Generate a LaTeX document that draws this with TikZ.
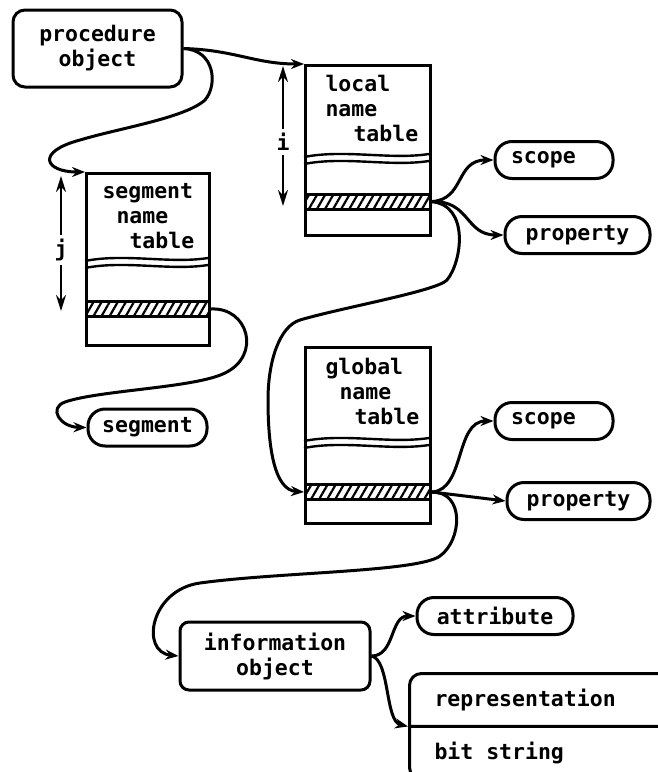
\documentclass[tikz,border=0pt]{standalone}
\usepackage{fontspec}
\setmonofont{DejaVu Sans Mono}
\usetikzlibrary{arrows.meta,patterns.meta,shapes.multipart}
\begin{document}
\begin{tikzpicture}[x=1pt, y=-1pt, >={Stealth[length=13pt,width=10pt]},
  line width=3pt,
  every node/.style={font=\ttfamily\bfseries\fontsize{21.5}{25}\selectfont, inner sep=0pt},
  obj/.style={draw, rounded corners=12pt, align=center},
  pill/.style={draw, rounded corners=17pt, minimum height=37pt},
  nametab/.style={draw, anchor=north west, minimum width=125pt},
  hatchbar/.style={draw, anchor=north west, minimum width=125pt, minimum height=15pt,
    pattern={Lines[angle=60, distance=7pt, line width=2.2pt]}},
  tabtext/.style={anchor=north west, align=left},
  wave/.style={line width=2.4pt},
  idx/.style={line width=2.2pt, >={Stealth[length=16pt,width=10pt]}}]
\useasboundingbox (0,0) rectangle (657,772);

% procedure object
\node[obj, minimum width=169pt, minimum height=77pt] (proc) at (97.5,48.5) {procedure\\object};

% local name table
\node[nametab, minimum height=170pt] (loc) at (304,64) {};
\node[tabtext] (locT) at (324,74) {local\\name\\\hspace*{28pt}table};
\draw[wave] (304,157) .. controls (345,149) and (390,160) .. (429,154);
\draw[wave] (304,164) .. controls (345,156) and (390,167) .. (429,161);
\node[hatchbar] (locbar) at (304,193) {};
\coordinate (iTop) at (283,66);
\coordinate (iBot) at (283,206);
\node[inner ysep=3pt] (iLbl) at (283,142) {i};
\draw[idx,->] (iLbl) -- (iTop);
\draw[idx,->] (iLbl) -- (iBot);

% segment name table
\node[nametab, minimum width=123pt, minimum height=172pt] (seg) at (85,172) {};
\node[tabtext] (segT) at (101,181.5) {segment\\\hspace*{14pt}name\\\hspace*{27pt}table};
\draw[wave] (85,261) .. controls (125,253) and (170,264) .. (208,258);
\draw[wave] (85,268) .. controls (125,260) and (170,271) .. (208,265);
\node[hatchbar, minimum width=123pt] (segbar) at (85,300) {};
\coordinate (jTop) at (61,176);
\coordinate (jBot) at (61,311);
\node[inner ysep=3pt] (jLbl) at (61,250) {j};
\draw[idx,->] (jLbl) -- (jTop);
\draw[idx,->] (jLbl) -- (jBot);

% global name table
\node[nametab, minimum height=176pt] (glob) at (304,346) {};
\node[tabtext] (globT) at (324,357) {global\\\hspace*{14pt}name\\\hspace*{29pt}table};
\draw[wave] (304,441) .. controls (345,433) and (390,444) .. (429,438);
\draw[wave] (304,448) .. controls (345,440) and (390,451) .. (429,445);
\node[hatchbar] (globbar) at (304,483) {};

% leaves
\node[pill, align=left, text width=86pt, inner xsep=16pt] (lscope) at (554,160) {scope};
\node[pill, minimum width=145pt] (lprop) at (577.5,235) {property};
\node[pill, align=left, text width=86pt, inner xsep=16pt] (gscope) at (554,421) {scope};
\node[pill, minimum width=143pt] (gprop) at (578.5,501) {property};
\node[pill, minimum width=119pt] (segbox) at (147.5,427.5) {segment};
\node[pill, minimum width=156pt] (attr) at (495,616) {attribute};
\node[obj, rounded corners=9pt, minimum width=190pt, minimum height=68pt] (info) at (275,656) {information\\object};
\node[draw, rectangle split, rectangle split parts=2, rounded corners=12pt,
  anchor=north west, text width=260pt, align=left, inner xsep=25pt, inner ysep=14pt]
  (repr) at (408,672) {representation\nodepart{two}bit\hspace{0.602em}string};

% pointers
\draw[->] (proc.east) .. controls (235,50) and (255,64) .. (loc.north west);
\draw[->] (proc.east) .. controls (215,50) and (218,85) .. (205,100)
  .. controls (185,118) and (120,128) .. (80,140)
  .. controls (35,152) and (45,172) .. (seg.north west);
\draw[->] (segbar.east) .. controls (248,307) and (262,355) .. (225,373)
  .. controls (195,388) and (100,390) .. (65,402)
  .. controls (48,408) and (60,427) .. (segbox.west);
\draw[->] (locbar.east) .. controls (465,200) and (455,160) .. (lscope.west);
\draw[->] (locbar.east) .. controls (470,200) and (465,235) .. (lprop.west);
\draw[->] (locbar.east) .. controls (470,205) and (462,262) .. (447,280)
  .. controls (437,291) and (340,308) .. (300,320)
  .. controls (280,326) and (268,360) .. (268,400)
  .. controls (268,450) and (275,490) .. (globbar.west);
\draw[->] (globbar.east) .. controls (465,490) and (455,421) .. (gscope.west);
\draw[->] (globbar.east) -- (gprop.west);
\draw[->] (globbar.east) .. controls (465,492) and (462,540) .. (440,556)
  .. controls (418,572) and (280,572) .. (200,583)
  .. controls (150,590) and (140,652) .. (info.west);
\draw[->] (info.east) .. controls (395,656) and (390,616) .. (attr.west);
\draw[->] (info.east) .. controls (390,660) and (385,721) .. (repr.text split west);
\end{tikzpicture}
\end{document}
